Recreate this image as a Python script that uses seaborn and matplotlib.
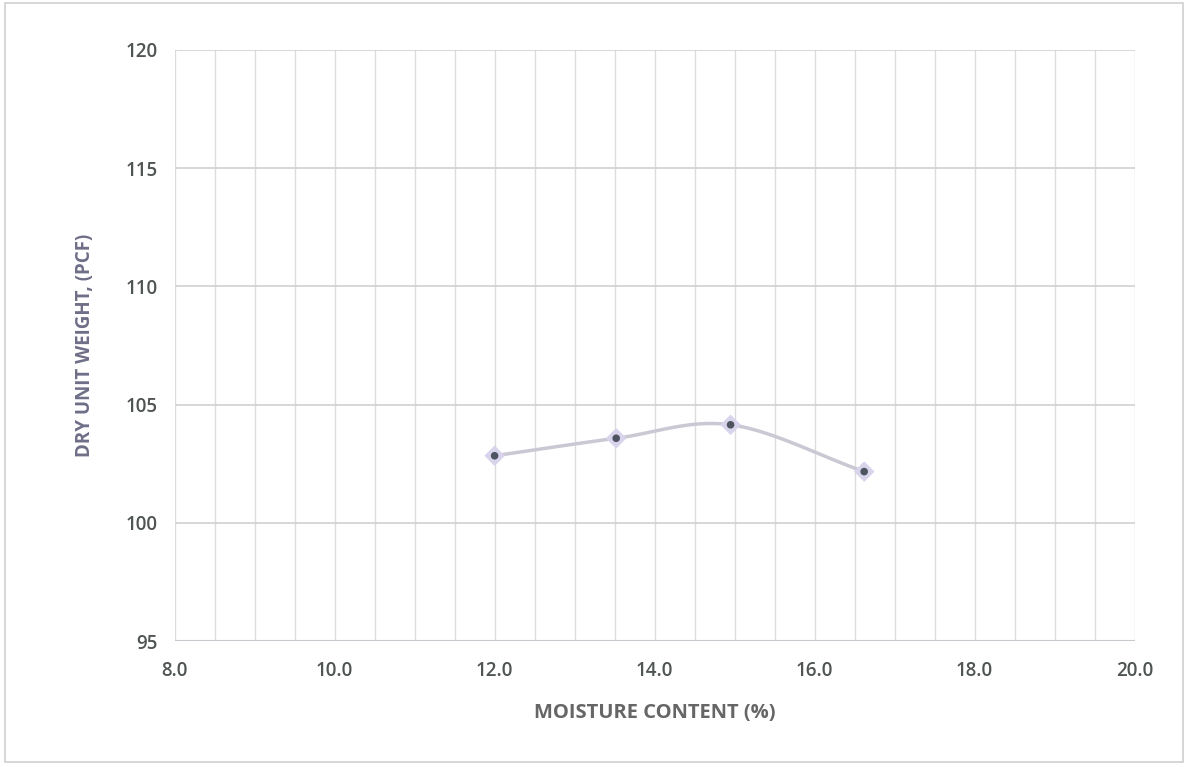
import numpy as np
import pandas as pd
import matplotlib
matplotlib.use('Agg')
import matplotlib.pyplot as plt
import seaborn as sns

# valores
moisture = [12.0, 13.52, 14.95, 16.62]
dry_unit_weight = [102.84, 103.58, 104.15, 102.17]

x_ticks = [8.0, 10.0, 12.0, 14.0, 16.0, 18.0, 20.0]
y_ticks = [95, 100, 105, 110, 115, 120]

df = pd.DataFrame({'moisture': moisture, 'dry': dry_unit_weight})


def smooth(xs, ys, n=40):
    # curva suavizada tipo Excel (Catmull-Rom)
    p = np.column_stack([xs, ys])
    p = np.vstack([2 * p[0] - p[1], p, 2 * p[-1] - p[-2]])
    out = []
    for i in range(1, len(p) - 2):
        p0, p1, p2, p3 = p[i - 1], p[i], p[i + 1], p[i + 2]
        t = np.linspace(0, 1, n)[:, None]
        seg = 0.5 * ((2 * p1) + (-p0 + p2) * t + (2 * p0 - 5 * p1 + 4 * p2 - p3) * t ** 2
                     + (-p0 + 3 * p1 - 3 * p2 + p3) * t ** 3)
        out.append(seg)
    c = np.vstack(out)
    return c[:, 0], c[:, 1]


sx, sy = smooth(df['moisture'].values, df['dry'].values)
curve = pd.DataFrame({'x': sx, 'y': sy})

sns.set_style('white')
plt.rcParams['font.family'] = ['Open Sans', 'DejaVu Sans']

fig = plt.figure(figsize=(11.88, 7.67), dpi=100)
ax = fig.add_axes([0.147, 0.164, 0.808, 0.771])

sns.lineplot(data=curve, x='x', y='y', sort=False, color='#cbc8d4', linewidth=2.5, ax=ax)
sns.scatterplot(data=df, x='moisture', y='dry', marker='D', s=110, color='#d8d4ec',
                edgecolor='none', ax=ax, zorder=4)
sns.scatterplot(data=df, x='moisture', y='dry', marker='o', s=30, color='#4e5560',
                edgecolor='none', ax=ax, zorder=5)

ax.set_xlim(8, 20)
ax.set_ylim(95, 120)
ax.set_xticks(x_ticks)
ax.set_xticklabels([f'{v:.1f}' for v in x_ticks])
ax.set_yticks(y_ticks)
ax.set_xticks(np.arange(8, 20.01, 0.5), minor=True)
ax.grid(True, which='major', axis='y', color='#d4d4d4', linewidth=1.3)
ax.grid(True, which='both', axis='x', color='#dcdcdc', linewidth=1.0)
for s in ax.spines.values():
    s.set_visible(False)
ax.axhline(95, color='#c8c8cf', linewidth=1.5)
ax.tick_params(axis='both', which='both', length=0, labelsize=13.5, labelcolor='#4f5552')
ax.tick_params(axis='x', pad=14)
ax.tick_params(axis='y', pad=12)
for lab in ax.get_xticklabels() + ax.get_yticklabels():
    lab.set_fontweight('semibold')

ax.set_xlabel('MOISTURE CONTENT (%)', fontsize=14.5, fontweight='bold', color='#666666', labelpad=16)
ax.set_ylabel('DRY UNIT WEIGHT, (PCF)', fontsize=13.5, fontweight='bold', color='#6e6e88', labelpad=22)

fig.patches.append(plt.Rectangle((0.004, 0.006), 0.992, 0.99, transform=fig.transFigure,
                                 fill=False, edgecolor='#cfcfcf', linewidth=1.2))

plt.savefig('out.png', dpi=100)
